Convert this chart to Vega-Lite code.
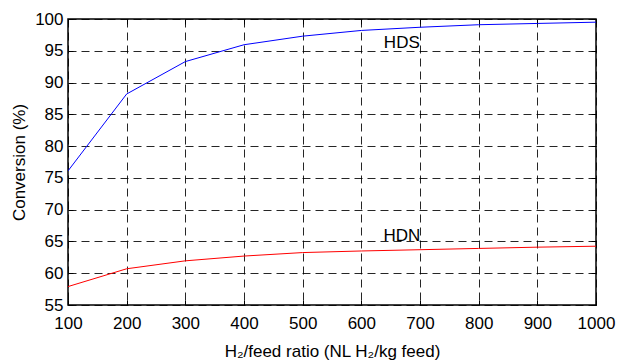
{
  "$schema": "https://vega.github.io/schema/vega-lite/v6.json",
  "width": 528,
  "height": 286,
  "autosize": "none",
  "padding": {"left": 68, "top": 19, "right": 22, "bottom": 59},
  "background": "white",
  "config": {
    "font": "Liberation Sans",
    "view": {"stroke": "#000", "strokeWidth": 1.5},
    "axis": {
      "labelFont": "Liberation Sans",
      "titleFont": "Liberation Sans",
      "labelFontSize": 17,
      "titleFontSize": 17,
      "labelColor": "#000",
      "titleColor": "#000",
      "titleFontWeight": "normal",
      "labelOverlap": false,
      "labelFlush": false,
      "domain": false,
      "tickColor": "#000",
      "tickSize": -5,
      "tickWidth": 1,
      "grid": true,
      "gridColor": "#000",
      "gridOpacity": 0.85,
      "gridDash": [8, 5],
      "gridWidth": 1
    }
  },
  "datasets": {
    "curves": [
      {"ratio": 100, "conv": 76.1, "series": "HDS"},
      {"ratio": 200, "conv": 88.2, "series": "HDS"},
      {"ratio": 300, "conv": 93.3, "series": "HDS"},
      {"ratio": 400, "conv": 95.95, "series": "HDS"},
      {"ratio": 500, "conv": 97.3, "series": "HDS"},
      {"ratio": 600, "conv": 98.2, "series": "HDS"},
      {"ratio": 700, "conv": 98.7, "series": "HDS"},
      {"ratio": 800, "conv": 99.1, "series": "HDS"},
      {"ratio": 900, "conv": 99.3, "series": "HDS"},
      {"ratio": 1000, "conv": 99.5, "series": "HDS"},
      {"ratio": 100, "conv": 57.9, "series": "HDN"},
      {"ratio": 200, "conv": 60.7, "series": "HDN"},
      {"ratio": 300, "conv": 61.95, "series": "HDN"},
      {"ratio": 400, "conv": 62.7, "series": "HDN"},
      {"ratio": 500, "conv": 63.25, "series": "HDN"},
      {"ratio": 600, "conv": 63.5, "series": "HDN"},
      {"ratio": 700, "conv": 63.7, "series": "HDN"},
      {"ratio": 800, "conv": 63.9, "series": "HDN"},
      {"ratio": 900, "conv": 64.1, "series": "HDN"},
      {"ratio": 1000, "conv": 64.25, "series": "HDN"}
    ],
    "labels": [
      {"ratio": 669, "conv": 96.2, "label": "HDS"},
      {"ratio": 669, "conv": 65.9, "label": "HDN"}
    ]
  },
  "resolve": {"axis": {"x": "independent", "y": "independent"}},
  "layer": [
    {
      "data": {"name": "curves"},
      "mark": {"type": "line", "strokeWidth": 1, "clip": true},
      "encoding": {
        "x": {
          "field": "ratio", "type": "quantitative",
          "scale": {"domain": [100, 1000], "nice": false},
          "axis": {"orient": "bottom", "values": [100,200,300,400,500,600,700,800,900,1000], "format": "d", "title": "H₂/feed ratio (NL H₂/kg feed)", "titlePadding": 12, "labelPadding": 15}
        },
        "y": {
          "field": "conv", "type": "quantitative",
          "scale": {"domain": [55, 100], "nice": false, "zero": false},
          "axis": {"orient": "left", "values": [55,60,65,70,75,80,85,90,95,100], "format": "d", "title": "Conversion (%)", "titlePadding": 6, "labelPadding": 10}
        },
        "color": {
          "field": "series", "type": "nominal",
          "scale": {"domain": ["HDS", "HDN"], "range": ["#0000ff", "#ff0000"]},
          "legend": null
        }
      }
    },
    {
      "data": {"name": "labels"},
      "mark": {"type": "text", "fontSize": 17, "font": "Liberation Sans", "color": "#000", "align": "center", "baseline": "middle"},
      "encoding": {
        "x": {"field": "ratio", "type": "quantitative", "axis": null},
        "y": {"field": "conv", "type": "quantitative", "axis": null},
        "text": {"field": "label"}
      }
    },
    {
      "data": {"name": "labels"},
      "mark": {"type": "point", "opacity": 0},
      "encoding": {
        "x": {"field": "ratio", "type": "quantitative", "axis": {"orient": "top", "values": [100,200,300,400,500,600,700,800,900,1000], "labels": false, "grid": false, "title": null}},
        "y": {"field": "conv", "type": "quantitative", "axis": {"orient": "right", "values": [55,60,65,70,75,80,85,90,95,100], "labels": false, "grid": false, "title": null}}
      }
    }
  ]
}
